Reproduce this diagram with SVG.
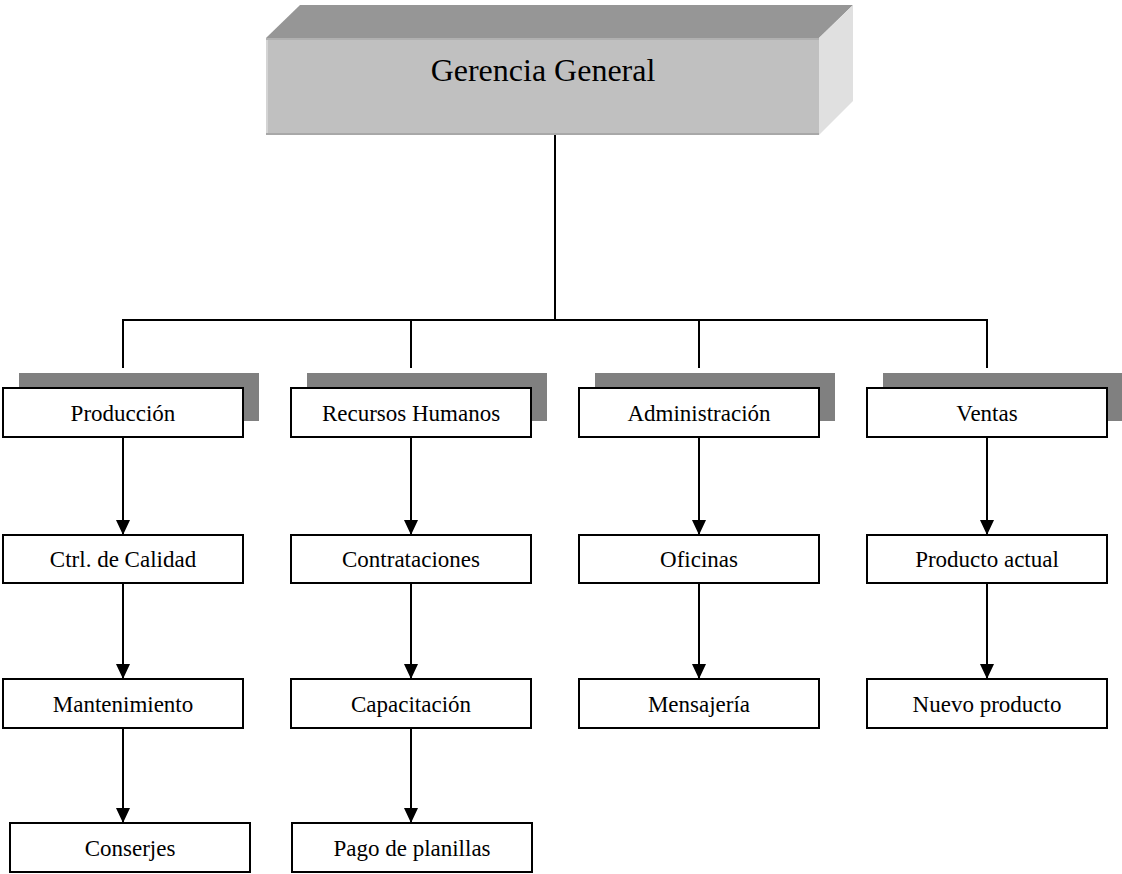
<svg xmlns="http://www.w3.org/2000/svg" width="1122" height="874" viewBox="0 0 1122 874">
<style>
.box{fill:#ffffff;stroke:#000000;stroke-width:2}
.shadow{fill:#808080}
.lbl{font-family:"Liberation Serif","Times New Roman",serif;font-size:23px;fill:#000;text-anchor:middle}
.title{font-family:"Liberation Serif","Times New Roman",serif;font-size:32px;fill:#000;text-anchor:middle}
.ln{stroke:#000;stroke-width:2;fill:none}
</style>
<defs>
<marker id="arr" markerWidth="15" markerHeight="14" refX="15" refY="7" orient="auto" markerUnits="userSpaceOnUse" viewBox="0 0 15 14">
<path d="M0,0 L15,7 L0,14 Z" fill="#000"/>
</marker>
</defs>
<rect width="1122" height="874" fill="#ffffff"/>
<g id="gerencia">
<polygon points="266,38 300,5 853,5 819,38" fill="#969696"/>
<polygon points="819,38 853,5 853,101 819,135" fill="#e0e0e0"/>
<rect x="266" y="38" width="553" height="97" fill="#c0c0c0"/>
<line x1="267" y1="39" x2="267" y2="135" stroke="#d4d4d4" stroke-width="2"/>
<line x1="266" y1="134" x2="819" y2="134" stroke="#a8a8a8" stroke-width="2"/>
<line x1="266" y1="39" x2="819" y2="39" stroke="#b0b0b0" stroke-width="2"/>
<text class="title" x="543" y="81">Gerencia General</text>
</g>
<g id="connectors">
<line class="ln" x1="555" y1="135" x2="555" y2="320"/>
<line class="ln" x1="122" y1="320" x2="988" y2="320"/>
<line class="ln" x1="123" y1="319" x2="123" y2="368"/>
<line class="ln" x1="411" y1="319" x2="411" y2="368"/>
<line class="ln" x1="699" y1="319" x2="699" y2="368"/>
<line class="ln" x1="987" y1="319" x2="987" y2="368"/>
<line class="ln" x1="123" y1="437" x2="123" y2="535" marker-end="url(#arr)"/>
<line class="ln" x1="123" y1="583" x2="123" y2="679" marker-end="url(#arr)"/>
<line class="ln" x1="123" y1="728" x2="123" y2="823" marker-end="url(#arr)"/>
<line class="ln" x1="411" y1="437" x2="411" y2="535" marker-end="url(#arr)"/>
<line class="ln" x1="411" y1="583" x2="411" y2="679" marker-end="url(#arr)"/>
<line class="ln" x1="411" y1="728" x2="411" y2="823" marker-end="url(#arr)"/>
<line class="ln" x1="699" y1="437" x2="699" y2="535" marker-end="url(#arr)"/>
<line class="ln" x1="699" y1="583" x2="699" y2="679" marker-end="url(#arr)"/>
<line class="ln" x1="987" y1="437" x2="987" y2="535" marker-end="url(#arr)"/>
<line class="ln" x1="987" y1="583" x2="987" y2="679" marker-end="url(#arr)"/>
</g>
<g id="produccion">
<rect class="shadow" x="19" y="373" width="240" height="48"/>
<rect class="box" x="3" y="388" width="240" height="49"/>
<text class="lbl" x="123" y="421">Producción</text>
</g>
<g id="recursos-humanos">
<rect class="shadow" x="307" y="373" width="240" height="48"/>
<rect class="box" x="291" y="388" width="240" height="49"/>
<text class="lbl" x="411" y="421">Recursos Humanos</text>
</g>
<g id="administracion">
<rect class="shadow" x="595" y="373" width="240" height="48"/>
<rect class="box" x="579" y="388" width="240" height="49"/>
<text class="lbl" x="699" y="421">Administración</text>
</g>
<g id="ventas">
<rect class="shadow" x="883" y="373" width="240" height="48"/>
<rect class="box" x="867" y="388" width="240" height="49"/>
<text class="lbl" x="987" y="421">Ventas</text>
</g>
<g id="ctrl-calidad">
<rect class="box" x="3" y="535" width="240" height="48"/>
<text class="lbl" x="123" y="567">Ctrl. de Calidad</text>
</g>
<g id="contrataciones">
<rect class="box" x="291" y="535" width="240" height="48"/>
<text class="lbl" x="411" y="567">Contrataciones</text>
</g>
<g id="oficinas">
<rect class="box" x="579" y="535" width="240" height="48"/>
<text class="lbl" x="699" y="567">Oficinas</text>
</g>
<g id="producto-actual">
<rect class="box" x="867" y="535" width="240" height="48"/>
<text class="lbl" x="987" y="567">Producto actual</text>
</g>
<g id="mantenimiento">
<rect class="box" x="3" y="679" width="240" height="49"/>
<text class="lbl" x="123" y="712">Mantenimiento</text>
</g>
<g id="capacitacion">
<rect class="box" x="291" y="679" width="240" height="49"/>
<text class="lbl" x="411" y="712">Capacitación</text>
</g>
<g id="mensajeria">
<rect class="box" x="579" y="679" width="240" height="49"/>
<text class="lbl" x="699" y="712">Mensajería</text>
</g>
<g id="nuevo-producto">
<rect class="box" x="867" y="679" width="240" height="49"/>
<text class="lbl" x="987" y="712">Nuevo producto</text>
</g>
<g id="conserjes">
<rect class="box" x="10" y="823" width="240" height="49"/>
<text class="lbl" x="130" y="856">Conserjes</text>
</g>
<g id="pago-planillas">
<rect class="box" x="292" y="823" width="240" height="49"/>
<text class="lbl" x="412" y="856">Pago de planillas</text>
</g>
</svg>
